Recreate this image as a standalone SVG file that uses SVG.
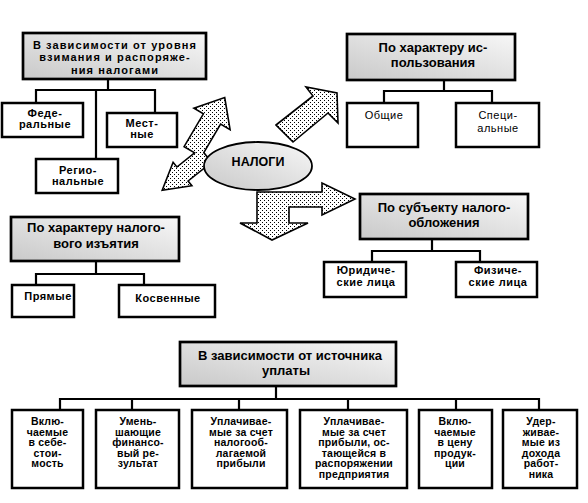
<svg xmlns="http://www.w3.org/2000/svg" width="588" height="503" viewBox="0 0 588 503">
<style>
.hdr{fill:url(#g);stroke:#000;stroke-width:2.7}
.box{fill:#fff;stroke:#000;stroke-width:2.5}
.con{fill:none;stroke:#000;stroke-width:2.2}
.arr{fill:url(#dots);stroke:#000;stroke-width:1.6;stroke-linejoin:miter}
text{font-family:"Liberation Sans",Arial,sans-serif;fill:#000;text-anchor:middle}
.h{font-size:13px;font-weight:bold}
.h1{font-size:11px;font-weight:bold;letter-spacing:1.1px}
.s{font-size:11px;font-weight:bold;letter-spacing:0.5px}
.n{font-size:11px;letter-spacing:0.5px}
.b{font-size:10.5px;font-weight:bold;letter-spacing:0.2px}
.c{font-size:12.5px;font-weight:bold}
</style>
<defs>
<linearGradient id="g" x1="0" y1="1" x2="1" y2="0">
<stop offset="0" stop-color="#c9c9c9"/>
<stop offset="1" stop-color="#f7f7f7"/>
</linearGradient>
<pattern id="dots" width="4" height="4" patternUnits="userSpaceOnUse">
<rect width="4" height="4" fill="#fff"/>
<rect x="0" y="0" width="1" height="1" fill="#000"/>
<rect x="2" y="2" width="1" height="1" fill="#000"/>
</pattern>
</defs>

<g id="connectors">
<path class="con" d="M108 79V90M36 103V90H155V113M96 90V159"/>
<path class="con" d="M444 80V91M384 103V91H492V103"/>
<path class="con" d="M96 261V274M36 285V274H144V285"/>
<path class="con" d="M432 239V251M372 262V251H480V262"/>
<path class="con" d="M276 386V399M60 410V399H539V410M132 399V410M239 399V410M348 399V410M456 399V410"/>
</g>

<g id="arrows">
<polygon id="arrow-level" class="arr" points="224.7,97.5 230.1,129.7 220.6,124.1 203.8,152.6 211.5,162.3 188.1,181 191.9,185.7 162.2,190.3 173.1,162.3 176.9,167 194.6,152.8 184.1,146.6 203.4,113.9 193.9,108.3"/>
<polygon id="arrow-use" class="arr" points="276,125 313,96 306,87 337,93 338,123 328,113 293,142"/>
<polygon id="arrow-subject" class="arr" points="257,192 322,192 322,183 355,199 322,215 322,207 289,207 289,223 308,223 272,240 240,223 257,223"/>
</g>

<g id="n-taxes">
<ellipse cx="258" cy="166" rx="54" ry="24" fill="url(#g)" stroke="#000" stroke-width="1.8"/>
<text class="c" x="258" y="166">НАЛОГИ</text>
</g>

<g id="n-level">
<rect class="hdr" x="23" y="33" width="183" height="46"/>
<text class="h1" x="115" y="48.5">В зависимости от уровня</text>
<text class="h1" x="115" y="61">взимания и распоряже-</text>
<text class="h1" x="115" y="73.5">ния налогами</text>
</g>
<g id="n-federal">
<rect class="box" x="2" y="103" width="81" height="34"/>
<text class="s" x="45" y="117">Феде-</text>
<text class="s" x="45" y="128">ральные</text>
</g>
<g id="n-local">
<rect class="box" x="107" y="113" width="70" height="34"/>
<text class="s" x="142" y="127">Мест-</text>
<text class="s" x="142" y="138">ные</text>
</g>
<g id="n-regional">
<rect class="box" x="36" y="159" width="82" height="34"/>
<text class="s" x="78" y="174">Регио-</text>
<text class="s" x="78" y="185">нальные</text>
</g>

<g id="n-use">
<rect class="hdr" x="347" y="34" width="168" height="46"/>
<text class="h" x="433" y="51.7">По характеру ис-</text>
<text class="h" x="433" y="67.3">пользования</text>
</g>
<g id="n-common">
<rect class="box" x="347" y="103" width="71" height="44"/>
<text class="n" x="384" y="119">Общие</text>
</g>
<g id="n-special">
<rect class="box" x="456" y="103" width="83" height="44"/>
<text class="n" x="498" y="119">Специ-</text>
<text class="n" x="498" y="131.5">альные</text>
</g>

<g id="n-withdrawal">
<rect class="hdr" x="11" y="217" width="168" height="44"/>
<text class="h" x="96" y="232">По характеру налого-</text>
<text class="h" x="96" y="248">вого изъятия</text>
</g>
<g id="n-direct">
<rect class="box" x="12" y="285" width="62" height="32"/>
<text class="s" x="48" y="300">Прямые</text>
</g>
<g id="n-indirect">
<rect class="box" x="119" y="285" width="96" height="32"/>
<text class="s" x="168" y="301.5">Косвенные</text>
</g>

<g id="n-subject">
<rect class="hdr" x="360" y="194" width="168" height="45"/>
<text class="h" x="444" y="211.7">По субъекту налого-</text>
<text class="h" x="444" y="226.7">обложения</text>
</g>
<g id="n-legal">
<rect class="box" x="324" y="262" width="82" height="35"/>
<text class="s" x="366" y="274.3">Юридиче-</text>
<text class="s" x="366" y="286">ские лица</text>
</g>
<g id="n-physical">
<rect class="box" x="456" y="262" width="81" height="35"/>
<text class="s" x="498" y="274.3">Физиче-</text>
<text class="s" x="498" y="286">ские лица</text>
</g>

<g id="n-source">
<rect class="hdr" x="180" y="342" width="216" height="44"/>
<text class="h" x="290" y="360">В зависимости от источника</text>
<text class="h" x="286" y="375">уплаты</text>
</g>
<g id="n-cost">
<rect class="box" x="12" y="410" width="71" height="78"/>
<text class="b" x="47.5" y="425">Вклю-</text>
<text class="b" x="47.5" y="435.6">чаемые</text>
<text class="b" x="47.5" y="446.2">в себе-</text>
<text class="b" x="47.5" y="456.8">стои-</text>
<text class="b" x="47.5" y="467.4">мость</text>
</g>
<g id="n-financial">
<rect class="box" x="96" y="410" width="83" height="78"/>
<text class="b" x="138" y="425">Умень-</text>
<text class="b" x="138" y="435.6">шающие</text>
<text class="b" x="138" y="446.2">финансо-</text>
<text class="b" x="138" y="456.8">вый ре-</text>
<text class="b" x="138" y="467.4">зультат</text>
</g>
<g id="n-taxable">
<rect class="box" x="192" y="410" width="95" height="78"/>
<text class="b" x="241" y="425">Уплачивае-</text>
<text class="b" x="241" y="435.6">мые за счет</text>
<text class="b" x="241" y="446.2">налогооб-</text>
<text class="b" x="241" y="456.8">лагаемой</text>
<text class="b" x="241" y="467.4">прибыли</text>
</g>
<g id="n-retained">
<rect class="box" x="300" y="410" width="107" height="78"/>
<text class="b" x="354" y="425">Уплачивае-</text>
<text class="b" x="354" y="435.6">мые за счет</text>
<text class="b" x="354" y="446.2">прибыли, ос-</text>
<text class="b" x="354" y="456.8">тающейся в</text>
<text class="b" x="354" y="467.4">распоряжении</text>
<text class="b" x="354" y="478">предприятия</text>
</g>
<g id="n-price">
<rect class="box" x="419" y="410" width="73" height="78"/>
<text class="b" x="455" y="425">Вклю-</text>
<text class="b" x="455" y="435.6">чаемые</text>
<text class="b" x="455" y="446.2">в цену</text>
<text class="b" x="455" y="456.8">продук-</text>
<text class="b" x="455" y="467.4">ции</text>
</g>
<g id="n-employee">
<rect class="box" x="503" y="410" width="74" height="78"/>
<text class="b" x="541" y="425">Удер-</text>
<text class="b" x="541" y="435.6">живае-</text>
<text class="b" x="541" y="446.2">мые из</text>
<text class="b" x="541" y="456.8">дохода</text>
<text class="b" x="541" y="467.4">работ-</text>
<text class="b" x="541" y="478">ника</text>
</g>
</svg>
